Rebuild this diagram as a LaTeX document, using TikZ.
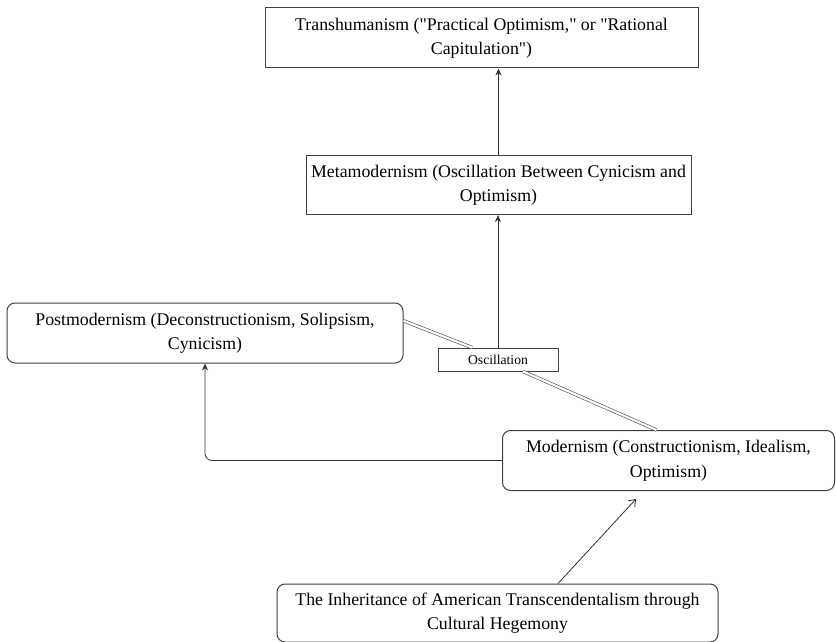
\documentclass[tikz,border=0pt]{standalone}
\usepackage{fontspec}
\setmainfont{Liberation Serif}[Ligatures=TeXOff]
\usetikzlibrary{arrows.meta, calc, positioning}

\begin{document}
\begin{tikzpicture}[x=1pt, y=-1pt,
    box/.style={draw=black!75, line width=1pt, fill=white, align=center, inner sep=0pt,
        font=\fontsize{17.8}{24.5}\selectfont},
    roundbox/.style={box, rounded corners=8pt},
    link/.style={draw=black!80, line width=0.8pt, -{Stealth[length=7pt, width=6pt]}},
    twin/.style={draw=black!70, line width=0.6pt, double=white, double distance=2.2pt}
    ]
    \useasboundingbox (0, 0) rectangle (836, 642);

    \node[box, minimum width=433pt, minimum height=60pt] (trans) at (481.5, 38)
        {Transhumanism ("Practical Optimism," or "Rational\\Capitulation")};
    \node[box, minimum width=385pt, minimum height=59pt] (meta) at (498.5, 185)
        {Metamodernism (Oscillation Between Cynicism and\\Optimism)};
    \node[roundbox, minimum width=396pt, minimum height=60pt] (post) at (205, 333)
        {Postmodernism (Deconstructionism, Solipsism,\\Cynicism)};
    \node[box, minimum width=120pt, minimum height=23pt, line width=0.9pt,
        font=\fontsize{13.6}{16}\selectfont] (osc) at (498, 359.5) {Oscillation};
    \node[roundbox, minimum width=332pt, minimum height=60pt] (mod) at (668.5, 460.5)
        {Modernism (Constructionism, Idealism,\\Optimism)};
    \node[roundbox, minimum width=441pt, minimum height=58pt] (inherit) at (497.5, 613)
        {The Inheritance of American Transcendentalism through\\Cultural Hegemony};

    \coordinate (postout) at ($(post.north east)!0.3!(post.south east)$);
    \coordinate (oscin) at ($(osc.north)+(-26, 0)$);
    \coordinate (oscout) at ($(osc.south)+(25, 0)$);
    \coordinate (modin) at ($(mod.north)+(-12, 0)$);
    \coordinate (inheritout) at ($(inherit.north)+(60.5, 0)$);
    \coordinate (modtip) at ($(mod.south)+(-32.5, 8)$);

    \draw[link] (meta.north) -- (meta.north |- trans.south);
    \draw[link] (osc.north) -- (osc.north |- meta.south);
    \draw[link, rounded corners=7pt] (mod.west) -| (post.south);
    \draw[draw=black!80, line width=0.8pt, -{Straight Barb[length=6pt, width=9pt]}] (inheritout) -- (modtip);
    \draw[twin] (postout) -- (oscin);
    \draw[twin] (oscout) -- (modin);
\end{tikzpicture}
\end{document}
